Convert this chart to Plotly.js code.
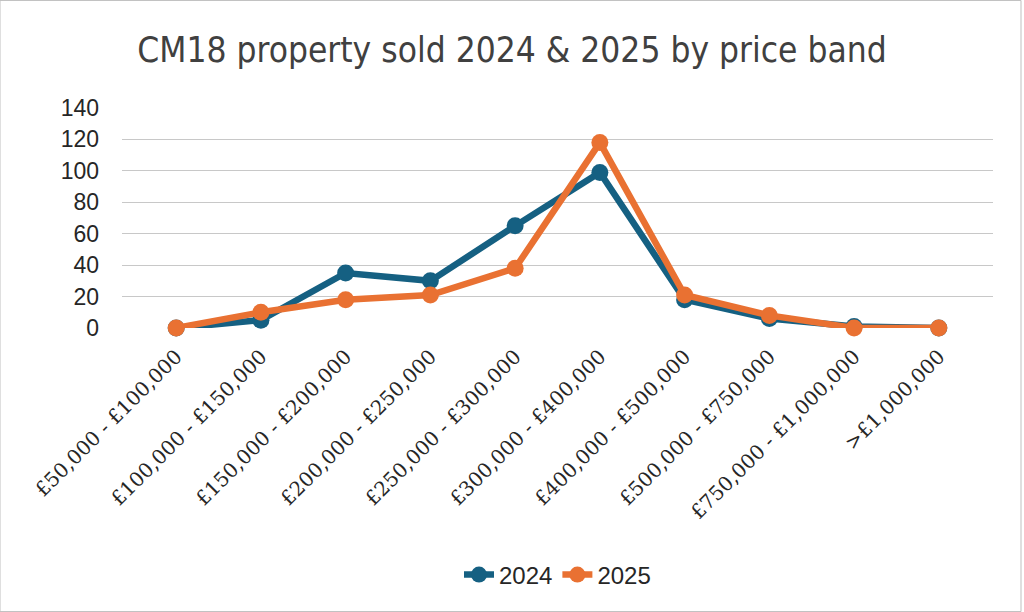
<!DOCTYPE html>
<html>
<head>
<meta charset="utf-8">
<script src="https://cdn.plot.ly/plotly-3.0.1.min.js"></script>
<style>
  html, body { margin: 0; padding: 0; background: #fff; }
  #chart { width: 1024px; height: 612px; }
</style>
</head>
<body>
<div id="chart"></div>
<script>
// price bands on the x axis
const priceBands = [
    "£50,000 - £100,000",
    "£100,000 - £150,000",
    "£150,000 - £200,000",
    "£200,000 - £250,000",
    "£250,000 - £300,000",
    "£300,000 - £400,000",
    "£400,000 - £500,000",
    "£500,000 - £750,000",
    "£750,000 - £1,000,000",
    ">£1,000,000",
];

// number of properties sold
const sold2024 = [0, 5, 35, 30, 65, 99, 18, 6, 1, 0];
const sold2025 = [0, 10, 18, 21, 38, 118, 21, 8, 0, 0];

const yTicks = [0, 20, 40, 60, 80, 100, 120, 140];

function seriesTrace(name, values, color) {
    return {
        x: priceBands,
        y: values,
        name: name,
        type: "scatter",
        mode: "lines+markers",
        line: { color: color, width: 6.5 },
        marker: { color: color, size: 17 },
        cliponaxis: false,
    };
}

const data = [
    seriesTrace("2024", sold2024, "#156082"),
    seriesTrace("2025", sold2025, "#E97132"),
];

const layout = {
    width: 1024,
    height: 612,
    margin: { l: 122, r: 31, t: 108, b: 284 },
    paper_bgcolor: "#ffffff",
    plot_bgcolor: "#ffffff",
    title: {
        text: "CM18 property sold 2024 & 2025 by price band",
        font: { family: "Liberation Sans Narrow, DejaVu Sans Condensed, sans-serif", size: 35, color: "#404040" },
        x: 0.5,
        xanchor: "center",
        y: 1 - 50 / 612,
        yanchor: "middle",
    },
    xaxis: {
        type: "category",
        tickangle: -45,
        tickfont: { family: "DejaVu Serif, serif", size: 20, color: "#262626" },
        showgrid: false,
        zeroline: false,
        showline: false,
        ticks: "outside",
        ticklen: 8,
        tickcolor: "rgba(0,0,0,0)",
        automargin: false,
    },
    yaxis: {
        range: [0, 140],
        tickvals: yTicks,
        tickfont: { family: "Liberation Sans, Arial, sans-serif", size: 23, color: "#262626" },
        ticklabelstandoff: 22,
        gridcolor: "#c8c8c8",
        gridwidth: 1,
        zeroline: false,
        showline: false,
        ticks: "",
        automargin: false,
    },
    showlegend: true,
    legend: {
        orientation: "h",
        x: 0.5,
        xanchor: "center",
        y: (328 - 575) / 220,
        yanchor: "middle",
        font: { family: "Liberation Sans, Arial, sans-serif", size: 24, color: "#262626" },
        itemwidth: 30,
    },
    shapes: [{
        type: "rect",
        xref: "paper", yref: "paper",
        x0: -122 / 871, x1: 1 + 28 / 871,
        y0: -284 / 220 + 0.002, y1: 1 + 108 / 220 - 0.002,
        line: { color: "#bfbfbf", width: 1 },
    }],
};

Plotly.newPlot("chart", data, layout, { displayModeBar: false, staticPlot: true });
</script>
</body>
</html>
